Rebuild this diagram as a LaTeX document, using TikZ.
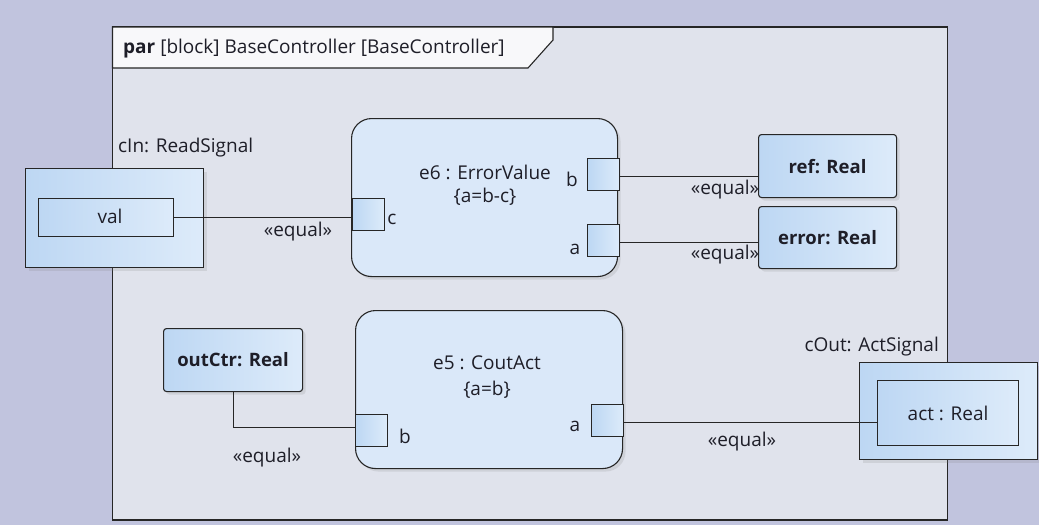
\documentclass[tikz,border=0pt]{standalone}
\usepackage{fontspec}
\setmainfont{Open Sans}
\usetikzlibrary{shadows}
\definecolor{outbg}{HTML}{C1C4DE}
\definecolor{framebg}{HTML}{E0E3EC}
\definecolor{tabbg}{HTML}{F8F8FA}
\definecolor{blockfill}{HTML}{DAE8F9}
\definecolor{partdark}{HTML}{BDD7F3}
\definecolor{partlight}{HTML}{DDEBFA}
\definecolor{txt}{HTML}{1E1E28}
\tikzset{
  lbl/.style={inner sep=0pt, text=txt, font=\fontsize{19}{21}\selectfont},
  eqlbl/.style={lbl},
  shad/.style={drop shadow={opacity=0.18, shadow xshift=3pt, shadow yshift=-3pt}},
  blockbox/.style={draw=black!85, line width=1.1pt, rounded corners=20pt, fill=blockfill, shad, anchor=north west, inner sep=0pt},
  partbox/.style={draw=black!85, line width=1.1pt, rounded corners=3pt, left color=partdark, right color=partlight, shad, anchor=north west, inner sep=0pt, text=txt, font=\fontsize{18.5}{20}\selectfont\bfseries},
  sqbox/.style={draw=black!85, line width=1.1pt, left color=partdark, right color=partlight, anchor=north west, inner sep=0pt, text=txt, font=\fontsize{19}{21}\selectfont},
  portbox/.style={draw=black!85, line width=1.1pt, left color=partdark, right color=partlight, anchor=north west, inner sep=0pt, minimum width=32pt, minimum height=32pt},
  conn/.style={draw=black!85, line width=1.1pt},
}
\begin{document}
\begin{tikzpicture}[x=1pt,y=-1pt]
\useasboundingbox (0,0) rectangle (1039,525);
\fill[outbg] (0,0) rectangle (1039,525);
% frame
\draw[line width=1.3pt, draw=black!85, fill=framebg] (112.5,27) rectangle (947.5,520);
\draw[line width=1.1pt, draw=black!85, fill=tabbg] (112.5,27) -- (553,27) -- (553,40) -- (528,68) -- (112.5,68) -- cycle;
\node[lbl, anchor=base west] (title) at (123,53) {\textbf{par} [block] BaseController [BaseController]};

% cIn
\node[sqbox, minimum width=178pt, minimum height=99pt, shad] (cIn) at (25,168) {};
\node[sqbox, minimum width=135pt, minimum height=38pt] (val) at (38,198) {};
\node[lbl] (valt) at (110,216) {val};
\node[lbl, anchor=west] (cInl) at (118,148) {cIn: ReadSignal};

% e6
\node[blockbox, minimum width=266pt, minimum height=158pt] (e6) at (351,118) {};
\node[lbl] (e6t) at (485,172) {e6 : ErrorValue};
\node[lbl] (e6c) at (485,197) {\{a=b-c\}};
\node[portbox] (pc) at (352,198) {};
\node[lbl] (pcl) at (392,219) {c};
\node[portbox] (pb) at (587,158) {};
\node[lbl] (pbl) at (572,179) {b};
\node[portbox] (pa) at (587,224) {};
\node[lbl] (pal) at (575,249) {a};

% ref / error
\node[partbox, minimum width=138pt, minimum height=63pt] (ref) at (758,134) {ref: Real};
\node[partbox, minimum width=138pt, minimum height=62pt] (err) at (758,206) {error: Real};

% outCtr
\node[partbox, minimum width=139pt, minimum height=63pt] (outc) at (163,328) {outCtr: Real};

% e5
\node[blockbox, minimum width=267pt, minimum height=158pt] (e5) at (355,310) {};
\node[lbl] (e5t) at (487,363) {e5 : CoutAct};
\node[lbl] (e5c) at (487,390) {\{a=b\}};
\node[portbox] (pb5) at (355,414) {};
\node[lbl] (pb5l) at (405,436) {b};
\node[portbox] (pa5) at (591,404) {};
\node[lbl] (pa5l) at (575,426) {a};

% cOut
\node[sqbox, minimum width=178pt, minimum height=97pt, shad] (cOut) at (859,362) {};
\node[sqbox, minimum width=141pt, minimum height=65pt] (act) at (877,380) {act : Real};
\node[lbl, anchor=east] (cOutl) at (939,347) {cOut: ActSignal};

% connectors
\draw[conn] (val.east) -- (val.east -| pc.west);
\node[eqlbl] (eq1) at (298,232) {«equal»};
\draw[conn] ([yshift=-2pt]pb.east) -- ([yshift=-2pt]pb.east -| ref.west);
\node[eqlbl] (eq2) at (725,190) {«equal»};
\draw[conn] ([yshift=-2pt]pa.east) -- ([yshift=-2pt]pa.east -| err.west);
\node[eqlbl] (eq3) at (725,255) {«equal»};
\draw[conn] (outc.south) |- ([yshift=3pt]pb5.west);
\node[eqlbl] (eq4) at (267,458) {«equal»};
\draw[conn] ([yshift=-2pt]pa5.east) -- ([yshift=-2pt]pa5.east -| act.west);
\node[eqlbl] (eq5) at (742,442) {«equal»};
\end{tikzpicture}
\end{document}
